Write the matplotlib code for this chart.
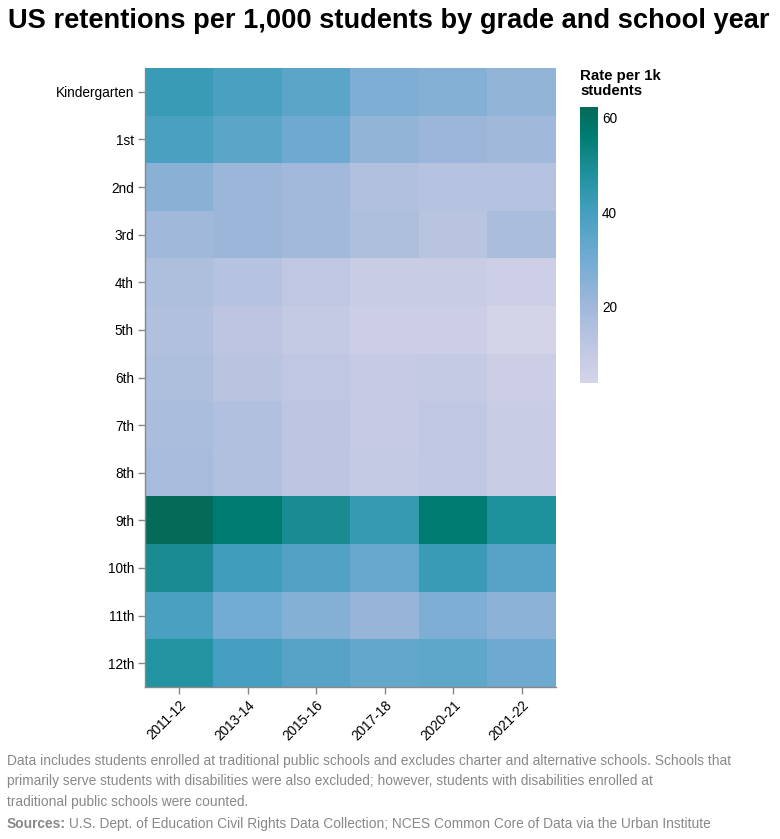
import numpy as np
import matplotlib
matplotlib.use("Agg")
import matplotlib.pyplot as plt
from matplotlib.colors import LinearSegmentedColormap, Normalize

plt.rcParams['font.family'] = ['Liberation Sans', 'DejaVu Sans']

years = ["2011-12", "2013-14", "2015-16", "2017-18", "2020-21", "2021-22"]
grades = ["Kindergarten", "1st", "2nd", "3rd", "4th", "5th", "6th", "7th", "8th",
          "9th", "10th", "11th", "12th"]

kindergarten = [42, 39, 35, 27, 26, 23]
g1 = [39, 35, 31, 23, 21, 20]
g2 = [25, 21, 19, 15, 14, 14]
g3 = [20, 21, 19, 16, 13, 17]
g4 = [16, 14, 11, 8, 8, 6.5]
g5 = [15, 12, 10, 7, 7, 3.9]
g6 = [16, 13, 11, 9, 10, 7]
g7 = [17, 15, 12, 9, 11, 8]
g8 = [18, 15, 12, 10, 11, 8]
g9 = [62.2, 56, 50, 43, 56, 48]
g10 = [50, 41, 37, 32, 42, 36]
g11 = [39, 30, 26, 22, 27, 24]
g12 = [47, 40, 36, 33, 34, 31]

data = np.array([kindergarten, g1, g2, g3, g4, g5, g6, g7, g8, g9, g10, g11, g12])

vmin, vmax = data.min(), data.max()
stops = [(3.9, "#d4d4e9"), (10, "#c4c9e4"), (20, "#a0b8da"), (30, "#72abd3"),
         (40, "#459fc0"), (48, "#1e929d"), (50, "#1a8c92"), (56, "#007c73"),
         (62.2, "#056a58")]
cmap = LinearSegmentedColormap.from_list(
    "tealblues", [((v - vmin) / (vmax - vmin), c) for v, c in stops])
norm = Normalize(vmin=vmin, vmax=vmax)

W, H = 780, 839
fig = plt.figure(figsize=(W / 100, H / 100), dpi=100)

def px_axes(x0, y0, x1, y1):
    return fig.add_axes([x0 / W, 1 - y1 / H, (x1 - x0) / W, (y1 - y0) / H])

ax = px_axes(145, 68, 556, 687)
ax.imshow(data, cmap=cmap, norm=norm, aspect='auto', interpolation='nearest')
ax.set_xticks(range(len(years)))
ax.set_xticklabels(years, rotation=45, ha='right', rotation_mode='anchor',
                   fontsize=9.8, color='#000000')
ax.set_yticks(range(len(grades)))
ax.set_yticklabels(grades, fontsize=9.8)
ax.tick_params(axis='both', length=5, width=1, color='#888888', pad=3)
for s in ['top', 'right']:
    ax.spines[s].set_visible(False)
for s in ['left', 'bottom']:
    ax.spines[s].set_color('#888888')
    ax.spines[s].set_linewidth(1)

# colorbar
cax = px_axes(580, 107, 598, 383)
cb = fig.colorbar(plt.cm.ScalarMappable(norm=norm, cmap=cmap), cax=cax)
cb.outline.set_visible(False)
cb.set_ticks([20, 40, 60])
cax.tick_params(length=0, labelsize=9.8, pad=3)
fig.text(580 / W, 1 - 69 / H, "Rate per 1k\nstudents", fontsize=10.8,
         fontweight='bold', va='top', ha='left', linespacing=1.1)

fig.text(8 / W, 1 - 21 / H, "US retentions per 1,000 students by grade and school year",
         fontsize=19.6, fontweight='bold', va='center', ha='left')

note = ("Data includes students enrolled at traditional public schools and excludes charter and alternative schools. Schools that\n"
        "primarily serve students with disabilities were also excluded; however, students with disabilities enrolled at\n"
        "traditional public schools were counted.")
fig.text(7 / W, 1 - 754 / H, note, fontsize=9.95, color='#888888', va='top', ha='left',
         linespacing=1.58)
t1 = fig.text(7 / W, 1 - 824 / H, "Sources:", fontsize=9.95, color='#888888',
              fontweight='bold', va='center', ha='left')
fig.canvas.draw()
bb = t1.get_window_extent()
fig.text((bb.x1 + 3) / W, 1 - 824 / H,
         "U.S. Dept. of Education Civil Rights Data Collection; NCES Common Core of Data via the Urban Institute",
         fontsize=9.95, color='#888888', va='center', ha='left')

fig.savefig("out.png", dpi=100)
